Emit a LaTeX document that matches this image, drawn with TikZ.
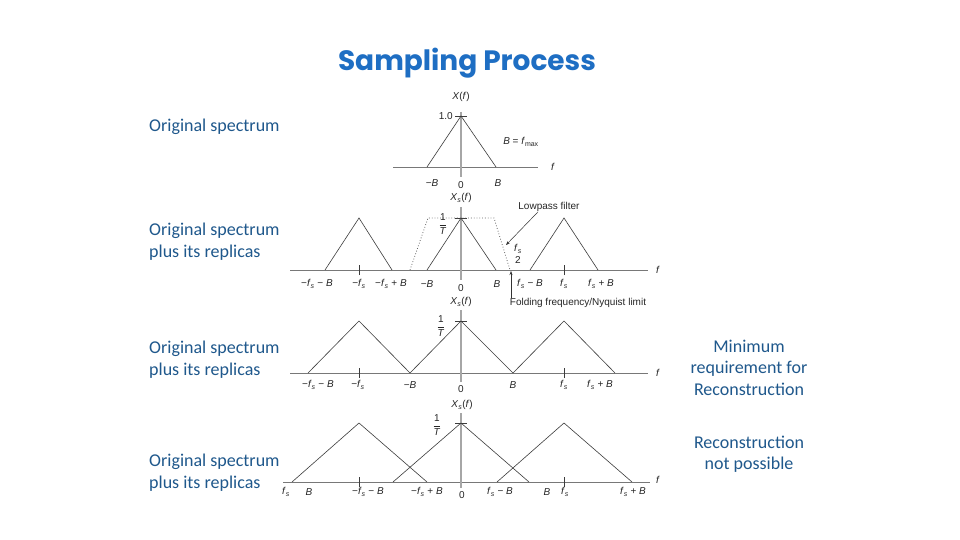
\documentclass[tikz,border=0pt]{standalone}
\usepackage{fontspec}
\setmainfont{Liberation Sans}
\newfontfamily\notefont{Carlito}
\newfontfamily\titlefont{Poppins}
\usetikzlibrary{arrows.meta}
\definecolor{notecol}{RGB}{31,88,140}
\definecolor{titlecol}{RGB}{30,110,195}
\definecolor{axiscol}{RGB}{120,120,120}
\definecolor{curvecol}{RGB}{60,60,60}
\newcommand{\fsamp}{\textit{f}\textsubscript{\textit{s}}}
\newcommand{\bw}{\textit{B}}
\newcommand{\invT}{$\displaystyle\frac{\mbox{1}}{\mbox{\textit{T}}}$}
\newcommand{\Xs}{\textit{X}\textsubscript{\textit{s}}(\textit{f})}
\begin{document}
\begin{tikzpicture}[x=1pt,y=-1pt,
  lbl/.style={font=\fontsize{10}{11}\selectfont, inner sep=0pt, text=black!85},
  note/.style={font=\notefont\fontsize{18}{21.5}\selectfont, text=notecol, inner sep=0pt},
  haxis/.style={draw=axiscol, line width=0.9pt},
  vaxis/.style={draw=black!35, line width=1.8pt},
  spec/.style={draw=curvecol, line width=0.6pt},
  lpfline/.style={draw=black!60, dotted, line width=0.8pt},
  ptr/.style={draw=black!80, line width=0.5pt, -{Stealth[length=4pt,width=3pt]}}]
\useasboundingbox[fill=white] (0,0) rectangle (960,540);
\node[font=\titlefont\bfseries\fontsize{28}{32}\selectfont, text=titlecol] (title) at (467,63) {Sampling Process};
% original spectrum
\node[note, anchor=west] (n1) at (149,127) {Original spectrum};
\coordinate (a1l) at (393,167);
\coordinate (a1r) at (538,167);
\draw[haxis] (a1l) -- (a1r);
\node[lbl] (f1) at (553,167) {\textit{f}};
\coordinate (v1t) at (461,112);
\coordinate (v1b) at (461,177);
\draw[vaxis] (v1t) -- (v1b);
\coordinate (p1l) at (427,167);
\coordinate (p1c) at (461,116);
\coordinate (p1r) at (496,167);
\draw[spec] (p1l) -- (p1c) -- (p1r);
\draw[spec] ([xshift=-6pt]p1c) -- ([xshift=6pt]p1c);
\node[lbl] (x1) at (461,97) {\textit{X}(\textit{f})};
\node[lbl, anchor=east] (one1) at (453,116) {1.0};
\node[lbl] (bmax) at (521,142) {\bw{} = \textit{f}\textsubscript{max}};
\node[lbl] (m1a) at (432,183) {−\bw};
\node[lbl] (m1b) at (461,185) {0};
\node[lbl] (m1c) at (498,183) {\bw};
% replicas, with lowpass filter
\node[note, anchor=west, align=left] (n2) at (149,241.5) {Original spectrum\\plus its replicas};
\coordinate (a2l) at (290,270);
\coordinate (a2r) at (648,270);
\draw[haxis] (a2l) -- (a2r);
\node[lbl] (f2) at (658,270) {\textit{f}};
\coordinate (v2t) at (461,207);
\coordinate (v2b) at (461,280);
\draw[vaxis] (v2t) -- (v2b);
\coordinate (p2a) at (325,270);
\coordinate (p2b) at (359,218);
\coordinate (p2c) at (392,270);
\draw[spec] (p2a) -- (p2b) -- (p2c);
\coordinate (p2d) at (427,270);
\coordinate (p2e) at (461,218);
\coordinate (p2f) at (496,270);
\draw[spec] (p2d) -- (p2e) -- (p2f);
\coordinate (p2g) at (530,270);
\coordinate (p2h) at (564,218);
\coordinate (p2i) at (598,270);
\draw[spec] (p2g) -- (p2h) -- (p2i);
\draw[spec] ([xshift=-6pt]p2e) -- ([xshift=6pt]p2e);
\draw[spec] ([yshift=-5pt]p2b|-a2l) -- ([yshift=5pt]p2b|-a2l);
\draw[spec] ([yshift=-5pt]p2h|-a2l) -- ([yshift=5pt]p2h|-a2l);
\coordinate (d2a) at (410,270);
\coordinate (d2b) at (428,218);
\coordinate (d2c) at (494,218);
\coordinate (d2d) at (510,270);
\draw[lpfline] (d2a) -- (d2b) -- (d2c) -- (d2d);
\node[lbl] (x2) at (461,198) {\Xs};
\node[lbl] (inv2) at (443,224) {\invT};
\node[lbl] (lpf) at (549,207) {Lowpass filter};
\coordinate (lpftip) at (506,245);
\draw[ptr] ([xshift=-11pt]lpf.south) -- (lpftip);
\node[lbl, align=center] (half) at (518,254) {\fsamp\\[1pt]2};
\node[lbl] (nyq) at (578,303) {Folding frequency/Nyquist limit};
\coordinate (nyqtip) at (511,271);
\draw[ptr] (nyq.north west -| nyqtip) -- (nyqtip);
\node[lbl] (m2a) at (317,284) {−\fsamp{} − \bw};
\node[lbl] (m2b) at (359,284) {−\fsamp};
\node[lbl] (m2c) at (391,284) {−\fsamp{} + \bw};
\node[lbl] (m2d) at (427,284) {−\bw};
\node[lbl] (m2e) at (461,288) {0};
\node[lbl] (m2f) at (497,284) {\bw};
\node[lbl] (m2g) at (530,284) {\fsamp{} − \bw};
\node[lbl] (m2h) at (564,284) {\fsamp};
\node[lbl] (m2i) at (601,284) {\fsamp{} + \bw};
% replicas just touching
\node[note, anchor=west, align=left] (n3) at (149,359.5) {Original spectrum\\plus its replicas};
\node[note, align=center] (n3r) at (749,367.5) {Minimum\\requirement for\\Reconstruction};
\coordinate (a3l) at (290,373);
\coordinate (a3r) at (648,373);
\draw[haxis] (a3l) -- (a3r);
\node[lbl] (f3) at (658,373) {\textit{f}};
\coordinate (v3t) at (461,310);
\coordinate (v3b) at (461,382);
\draw[vaxis] (v3t) -- (v3b);
\coordinate (p3a) at (308,373);
\coordinate (p3b) at (359,321);
\coordinate (p3c) at (410,373);
\coordinate (p3d) at (461,321);
\coordinate (p3e) at (513,373);
\coordinate (p3f) at (564,321);
\coordinate (p3g) at (615,373);
\draw[spec] (p3a) -- (p3b) -- (p3c) -- (p3d) -- (p3e) -- (p3f) -- (p3g);
\draw[spec] ([xshift=-6pt]p3d) -- ([xshift=6pt]p3d);
\draw[spec] ([yshift=-5pt]p3b|-a3l) -- ([yshift=5pt]p3b|-a3l);
\draw[spec] ([yshift=-5pt]p3f|-a3l) -- ([yshift=5pt]p3f|-a3l);
\node[lbl] (x3) at (461,302) {\Xs};
\node[lbl] (inv3) at (441,326) {\invT};
\node[lbl] (m3a) at (318,385) {−\fsamp{} − \bw};
\node[lbl] (m3b) at (358,385) {−\fsamp};
\node[lbl] (m3c) at (410,385) {−\bw};
\node[lbl] (m3d) at (461,389) {0};
\node[lbl] (m3e) at (513,385) {\bw};
\node[lbl] (m3f) at (564,385) {\fsamp};
\node[lbl] (m3g) at (600,385) {\fsamp{} + \bw};
% overlapping replicas
\node[note, anchor=west, align=left] (n4) at (149,472.5) {Original spectrum\\plus its replicas};
\node[note, align=center] (n4r) at (749,454) {Reconstruction\\not possible};
\coordinate (a4l) at (283,482);
\coordinate (a4r) at (650,482);
\draw[haxis] (a4l) -- (a4r);
\node[lbl] (f4) at (658,480) {\textit{f}};
\coordinate (v4t) at (461,413);
\coordinate (v4b) at (461,488);
\draw[vaxis] (v4t) -- (v4b);
\coordinate (p4a) at (292,482);
\coordinate (p4b) at (359,423);
\coordinate (p4c) at (427,482);
\draw[spec] (p4a) -- (p4b) -- (p4c);
\coordinate (p4d) at (393,482);
\coordinate (p4e) at (461,423);
\coordinate (p4f) at (529,482);
\draw[spec] (p4d) -- (p4e) -- (p4f);
\coordinate (p4g) at (497,482);
\coordinate (p4h) at (564,423);
\coordinate (p4i) at (632,482);
\draw[spec] (p4g) -- (p4h) -- (p4i);
\draw[spec] ([xshift=-6pt]p4e) -- ([xshift=6pt]p4e);
\draw[spec] ([yshift=-5pt]p4b|-a4l) -- ([yshift=5pt]p4b|-a4l);
\draw[spec] ([yshift=-5pt]p4h|-a4l) -- ([yshift=5pt]p4h|-a4l);
\node[lbl] (x4) at (462,405) {\Xs};
\node[lbl] (inv4) at (437,425) {\invT};
\node[lbl] (m4a) at (286,492) {\fsamp};
\node[lbl] (m4b) at (309,492) {\bw};
\node[lbl] (m4c) at (368,492) {−\fsamp{} − \bw};
\node[lbl] (m4d) at (427,492) {−\fsamp{} + \bw};
\node[lbl] (m4e) at (462,495) {0};
\node[lbl] (m4f) at (500,492) {\fsamp{} − \bw};
\node[lbl] (m4g) at (547,492) {\bw};
\node[lbl] (m4h) at (565,492) {\fsamp};
\node[lbl] (m4i) at (633,492) {\fsamp{} + \bw};
\end{tikzpicture}
\end{document}
